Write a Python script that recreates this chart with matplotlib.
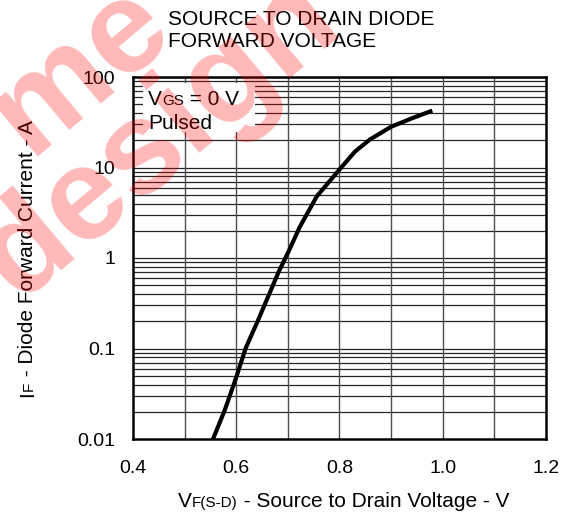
import numpy as np
import matplotlib.pyplot as plt
from matplotlib.patches import Rectangle

plt.rcParams['font.family'] = ['Liberation Sans', 'DejaVu Sans']

# кривая прямого напряжения диода
vf = [0.555, 0.578, 0.601, 0.618, 0.643, 0.682, 0.701, 0.723, 0.756, 0.800,
      0.817, 0.830, 0.859, 0.900, 0.940, 0.976]
i_f = [0.01, 0.021, 0.05, 0.10, 0.21, 0.70, 1.17, 2.2, 4.8, 9.5,
       12.3, 15.0, 20.4, 28.2, 34.9, 41.7]

x_ticks = [0.4, 0.6, 0.8, 1.0, 1.2]
x_labels = ['0.4', '0.6', '0.8', '1.0', '1.2']
y_ticks = [0.01, 0.1, 1, 10, 100]
y_labels = ['0.01', '0.1', '1', '10', '100']

W, H = 565, 516
fig = plt.figure(figsize=(W / 100, H / 100), dpi=100)
ax = fig.add_axes([133 / W, 1 - 439 / H, 413 / W, 362 / H])
ax.set_yscale('log')
ax.set_xlim(0.4, 1.2)
ax.set_ylim(0.01, 100)

# сетка
for d in [0.01, 0.1, 1, 10]:
    for k in range(2, 11):
        ax.axhline(d * k, color='0.15', lw=0.9, zorder=1)
for xv in np.arange(0.5, 1.15, 0.1):
    ax.axvline(xv, color='0.3', lw=1.0, zorder=1)

ax.add_patch(Rectangle((0.024, 0.848), 0.271, 0.135, transform=ax.transAxes,
                       facecolor='white', edgecolor='none', zorder=2))

ax.plot(vf, i_f, color='black', lw=3, zorder=3, solid_joinstyle='round')

ax.set_xticks(x_ticks)
ax.set_xticklabels(x_labels)
ax.set_yticks(y_ticks)
ax.set_yticklabels(y_labels)
ax.yaxis.set_minor_locator(plt.NullLocator())
ax.tick_params(length=0, labelsize=14, colors='black')
ax.tick_params(axis='x', pad=15)
ax.tick_params(axis='y', pad=13)
for s in ax.spines.values():
    s.set_linewidth(1.8)
    s.set_zorder(4)

renderer = fig.canvas.get_renderer()


def chain(parts, x, y, rot=0):
    # кусочки текста подряд, мелкие - как индексы
    for txt, size in parts:
        t = fig.text(x, y, txt, transform=None, fontsize=size, ha='left', va='baseline',
                     rotation=rot, rotation_mode='anchor', zorder=5)
        bb = t.get_window_extent(renderer)
        if rot == 0:
            x = bb.x1
        else:
            y = bb.y1


chain([('V', 15), ('GS', 11), (' = 0 V', 15)], 148, H - 105)
chain([('Pulsed', 15)], 148, H - 129)
chain([('V', 15), ('F(S-D)', 11), (' - Source to Drain Voltage - V', 15)], 178, H - 507)
chain([('I', 15), ('F', 11), (' - Diode Forward Current - A', 15)], 33, H - 397, rot=90)

fig.text(168 / W, 1 - 25 / H, 'SOURCE TO DRAIN DIODE', fontsize=15, ha='left', va='baseline')
fig.text(168 / W, 1 - 47 / H, 'FORWARD VOLTAGE', fontsize=15, ha='left', va='baseline')

# водяной знак
fig.text(80 / W, 1 - 68 / H, 'me', fontsize=95, fontweight='bold', color='red', alpha=0.28,
         rotation=40, ha='center', va='center', rotation_mode='anchor', zorder=10)
fig.text(160 / W, 1 - 139 / H, 'design', fontsize=95, fontweight='bold', color='red', alpha=0.28,
         rotation=40, ha='center', va='center', rotation_mode='anchor', zorder=10)

fig.savefig('out.png', dpi=100)
